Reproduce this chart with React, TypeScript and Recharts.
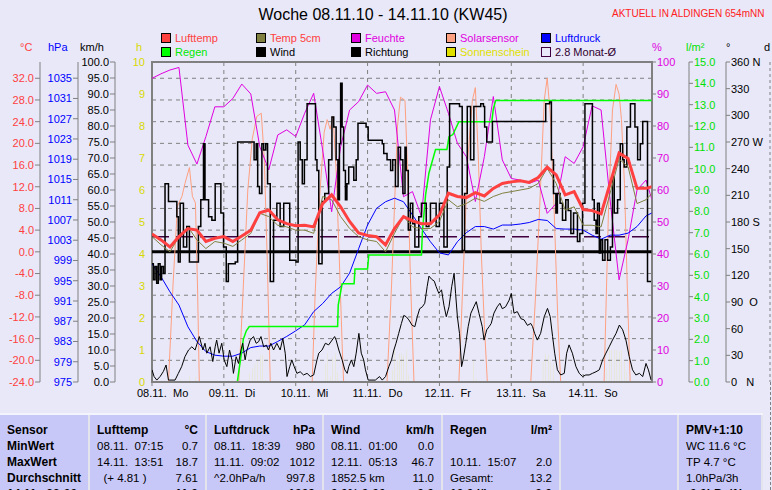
import {
  ComposedChart,
  Line,
  Bar,
  XAxis,
  YAxis,
  CartesianGrid,
  ReferenceLine,
  ReferenceArea,
} from "recharts";

const FONT = '"Liberation Sans", Arial, sans-serif';
const BG = "#E8E8F8";

// 3-hourly samples (hours since 08.11. 00:00)
const hours3 = [
  0, 3, 6, 9, 12, 15, 18, 21, 24, 27, 30, 33, 36, 39, 42, 45, 48, 51, 54, 57, 60, 63, 66, 69, 72, 75, 78, 81,
  84, 87, 90, 93, 96, 99, 102, 105, 108, 111, 114, 117, 120, 123, 126, 129, 132, 135, 138, 141, 144, 147,
  150, 153, 156, 159, 162, 165, 167,
];
const luftTemp = [
  3.3, 2.2, 0.9, 2.8, 4.3, 4.0, 1.9, 2.5, 2.8, 1.9, 2.9, 4.0, 7.2, 7.7, 5.9, 5.2, 4.8, 4.9, 4.6, 8.9, 10.5,
  8.3, 5.6, 3.5, 3.0, 2.8, 1.3, 4.3, 6.5, 5.7, 5.2, 5.2, 6.8, 10.8, 10.2, 10.0, 10.9, 10.3, 11.7, 12.6, 12.9,
  13.1, 12.8, 13.7, 15.6, 14.2, 10.5, 11.1, 7.8, 7.6, 7.0, 12.6, 18.2, 17.2, 11.7, 11.7, 12.0,
];
const temp5cm = [
  2.8, 1.3, 0.0, 2.8, 4.6, 2.2, 0.6, 1.9, 1.6, 1.0, 2.2, 3.4, 7.1, 6.5, 4.9, 4.6, 4.0, 4.0, 3.4, 10.2, 9.6,
  6.5, 4.3, 2.8, 2.2, 1.9, 0.0, 3.4, 6.5, 4.6, 4.3, 4.3, 5.6, 9.6, 8.3, 8.9, 9.9, 9.3, 10.2, 10.8, 11.1, 11.4,
  11.7, 12.6, 15.4, 12.6, 7.7, 8.3, 4.9, 4.9, 4.6, 10.8, 17.1, 15.7, 8.9, 9.6, 10.8,
];
const feuchte = [
  94.9, 96.3, 97.5, 98.3, 74, 68.1, 76.7, 86, 86, 88.6, 93.1, 90, 73.5, 66.3, 77.2, 78.8, 76.7, 84, 90.2, 72.5,
  53.2, 73.5, 85, 87.6, 92.8, 90.2, 90.7, 85, 57.9, 59.5, 51.7, 81.9, 92.3, 84, 74.6, 70.4, 56.4, 70.4, 89.2,
  69.4, 63.6, 63.1, 62.1, 63.1, 52.7, 55.8, 70.4, 68.3, 73.5, 86.3, 85, 56.9, 31.9, 44.4, 60, 63.1, 56.9,
];
const luftdruck = [
  998.3, 995.8, 992.8, 990.2, 985.9, 983.0, 981.0, 980.3, 980.1, 980.1, 980.7, 981.8, 982.1, 982.1, 983.0,
  984.0, 985.1, 986.3, 988.9, 990.5, 992.5, 993.8, 996.5, 1001.3, 1006.0, 1009.3, 1010.6, 1011.3, 1010.6,
  1008.0, 1005.3, 1002.7, 1000.5, 1000.1, 1002.7, 1004.5, 1005.7, 1005.7, 1005.2, 1006.0, 1006.0, 1006.2,
  1006.5, 1007.1, 1006.9, 1005.3, 1005.2, 1005.2, 1005.0, 1004.0, 1003.2, 1004.0, 1004.0, 1004.4, 1005.7,
  1007.8, 1008.4,
];

const solarT = [
  0, 5.5, 7, 8.5, 10, 11, 12.5, 13.5, 14.5, 15.2, 15.8, 29, 30.5, 32, 33.5, 35, 36.5, 37.5, 38.5, 39.5, 53.5,
  54.5, 56, 57.5, 58.5, 59.5, 60.5, 61.5, 62.5, 63.5, 64, 78.5, 80, 81, 82, 83, 84.5, 85.3, 86.3, 87.5, 102.5,
  104, 105.5, 107, 108, 109, 110, 111, 112, 126.5, 128, 129.5, 131, 132, 133, 134.3, 135.6, 136.5, 151, 152.5,
  153.8, 155, 156, 156.8, 157.8, 158.8, 159.7, 167,
];
const solarV = [
  0, 0, 30, 55, 58, 62, 67, 58, 56, 30, 0, 0, 30, 60, 76, 83, 84, 70, 38, 0, 0, 28, 58, 78, 82, 79, 83, 66, 40,
  12, 0, 0, 30, 55, 80, 89, 88, 68, 33, 0, 0, 35, 70, 88, 92, 70, 40, 18, 0, 0, 25, 55, 88, 95, 84, 54, 18, 0,
  0, 55, 85, 93, 90, 82, 62, 28, 0, 0,
];

const regenT = [
  0, 28.5, 29.5, 30.5, 31.5, 32.5, 62, 62.2, 63.5, 67.5, 67.8, 72, 72.4, 90, 90.3, 91.4, 92.5, 94.7, 98.5,
  99.2, 100.5, 102.5, 113.5, 114, 114.8, 167,
];
const regenV = [
  0, 0, 1.0, 2.0, 2.4, 2.6, 2.6, 3.6, 4.6, 4.6, 5.3, 5.3, 5.95, 5.95, 7.0, 8.8, 9.8, 10.9, 10.9, 11.5, 11.6,
  12.2, 12.2, 12.8, 13.2, 13.2,
];

const windT = [
  0, 0.7, 1.6, 2.7, 3.8, 4.7, 5.5, 7.7, 8.8, 9.9, 11, 12.2, 13.3, 14.4, 15.8, 17, 17.7, 18.3, 19.4, 20.3, 21.1,
  21.6, 22.4, 23.3, 24.1, 25, 25.9, 26.7, 27.2, 28.1, 28.9, 29.7, 30.3, 31.1, 31.7, 32.8, 33.9, 34.8, 35.6,
  36.4, 37.3, 38.2, 38.9, 39.7, 40.6, 41.7, 42.8, 43.7, 44.5, 45.1, 46, 46.7, 47.5, 48.4, 49.5, 50.6, 51.8,
  52.9, 54, 55.1, 55.7, 56.8, 57.9, 59, 61, 61.5, 62.4, 63.5, 64.4, 65.2, 65.7, 66.6, 67.4, 68.2, 69.1, 69.9,
  70.7, 71.3, 72.2, 74.6, 76, 76.9, 78, 79.1, 80, 80.8, 81.5, 82.4, 83.3, 84.1, 84.9, 85.8, 86.9, 87.8, 88.6,
  89.4, 90.3, 91.1, 91.9, 92.5, 93.4, 94.3, 94.9, 95.8, 96.7, 97.5, 98.3, 99.2, 100.1, 100.9, 101.4, 102,
  102.7, 103.4, 103.9, 104.8, 105.6, 106.5, 107.5, 108.3, 109.2, 110.3, 110.9, 111.8, 112.6, 113.3, 114.2,
  115.3, 116.2, 117, 118.1, 119.3, 120, 120.9, 122, 123.2, 124.3, 125.4, 126.5, 127.1, 127.8, 128.7, 129.8,
  131, 132.1, 133, 133.8, 134.5, 135.4, 136.5, 137.7, 138.5, 139.3, 140.4, 141.6, 142.7, 143.8, 144.9, 146,
  147.1, 148.3, 149.4, 150.5, 151.6, 152.7, 153.8, 155, 156.1, 157.2, 158.3, 159.4, 160.5, 161.6, 162.8,
  163.9, 165, 165.8, 166.7,
];
const windV = [
  3.8, 1.7, 0.6, 1.7, 3.3, 5.3, 0.6, 0.6, 2.7, 4.8, 7.9, 10, 11, 10, 14.2, 10, 12.1, 9, 11, 6.4, 11, 13.1, 9,
  12.1, 6.9, 4.8, 10, 6.9, 2.7, 7.9, 5.8, 10, 12.1, 6.9, 10, 13.1, 14.2, 12.1, 12.6, 14.2, 11, 11.5, 10, 12.1,
  10, 12.1, 10, 13.6, 9, 1.7, 4.8, 6.9, 4.8, 2.7, 3.2, 2.2, 2.7, 1.7, 2.2, 6.9, 9, 10, 12.1, 11.6, 14.2, 13.1,
  10, 6.9, 3.8, 2.7, 4.8, 6.9, 4.8, 9, 15.2, 9, 6.9, 3.8, 0.6, 0.6, 1.7, 0.6, 1.7, 4.8, 6.9, 10, 12.1, 15.2,
  18.3, 20.8, 20.4, 19.4, 17.7, 17.3, 20.4, 22.9, 23.5, 24.6, 29.8, 33.1, 32.1, 31.5, 29.8, 27.7, 28.8, 24,
  20.4, 23.5, 29.8, 34, 27.7, 20.4, 15.2, 4.8, 6.9, 12.1, 17.3, 21.5, 23.5, 25.1, 21.5, 17.3, 13.1, 16.3, 17.3,
  18.3, 21.5, 23.5, 24.6, 22.9, 23.5, 25.6, 27.7, 21.5, 22, 19.8, 19.4, 17.7, 18.3, 17.3, 15.2, 13.1, 15.2,
  20.4, 23, 20.4, 14.2, 9, 3.8, 2.2, 2.7, 9, 11.6, 9, 4.8, 2.7, 1.7, 2.2, 2.2, 2.7, 3.2, 3.8, 6.9, 9, 11, 13.1,
  15.2, 17.8, 16.3, 13.1, 7.9, 3.8, 2.2, 2.7, 1.7, 5.8, 3.8, 0.6,
];

const richtungT = [
  0, 0.45, 1, 1.56, 2.1, 2.7, 3.2, 3.8, 4.35, 5.5, 7.7, 8.3, 8.8, 9.4, 10.5, 11.6, 12.5, 14.9, 15.5, 16.3,
  17.2, 17.7, 18.9, 20, 21.1, 22.2, 23, 23.9, 24.8, 25.5, 27.8, 28.6, 33.4, 34.1, 34.8, 35.3, 35.9, 36.7, 37.3,
  38, 38.6, 39.5, 40.6, 41.7, 42.8, 44, 45.1, 46, 48.1, 48.8, 49.5, 50.2, 50.9, 51.8, 53.8, 54.6, 55.1, 55.7,
  56.8, 57.7, 59, 60.1, 60.7, 61.5, 62.1, 62.6, 63, 63.5, 64, 64.6, 65.1, 65.7, 67.4, 68.2, 68.8, 71.5, 72.2,
  76.9, 77.4, 78.5, 79.7, 80.4, 81.3, 82.2, 83, 83.8, 84.5, 84.9, 85.6, 86.3, 87.1, 87.8, 88.6, 89.1, 90, 90.8,
  91.6, 92.5, 93, 94.2, 94.9, 96, 97.5, 98.6, 99.4, 101.9, 102.7, 103.6, 104.4, 105.3, 106.4, 107.5, 109.8,
  110.7, 111.1, 111.8, 112.6, 113.7, 131, 131.5, 132.8, 133.4, 134.1, 134.9, 135.4, 136.3, 137.1, 138.2, 139,
  139.9, 140.8, 142.1, 142.9, 143.8, 144.6, 146.6, 147.1, 147.7, 148.3, 148.8, 149.4, 149.9, 150.5, 151.3,
  152.2, 153.1, 153.8, 154.4, 155.5, 156.4, 157.2, 157.7, 158.6, 159.8, 160.5, 161.3, 162.2, 163.1, 163.9,
  165, 165.5, 166.7,
];
const richtungV = [
  133, 115, 130, 111, 133, 115, 130, 122, 223, 203, 203, 186, 135, 201, 152, 175, 135, 135, 175, 205, 268, 205,
  186, 182, 223, 223, 190, 152, 113, 133, 135, 270, 270, 250, 268, 220, 212, 268, 261, 268, 223, 113, 182, 201,
  175, 201, 201, 137, 135, 270, 250, 223, 250, 313, 313, 250, 238, 133, 203, 212, 250, 298, 287, 250, 205, 268,
  336, 287, 238, 205, 223, 242, 227, 250, 291, 287, 272, 268, 257, 250, 238, 250, 220, 264, 250, 212, 264, 238,
  171, 201, 178, 152, 152, 186, 201, 201, 175, 178, 201, 201, 175, 201, 152, 242, 313, 313, 310, 148, 212, 310,
  250, 310, 313, 310, 287, 270, 270, 293, 293, 313, 315, 250, 212, 190, 212, 201, 182, 205, 193, 167, 190, 158,
  167, 201, 313, 313, 205, 182, 167, 201, 145, 160, 137, 160, 137, 152, 231, 190, 205, 268, 250, 242, 287, 313,
  313, 287, 250, 268, 293, 293, 113, 113,
];

const sunT = [
  9.6, 12.5, 14.5, 32.6, 33.5, 34.4, 35.3, 36.1, 37.0, 37.8, 57.9, 58.7, 59.6, 60.4, 61.2, 62.0, 80.4, 81.1,
  81.9, 82.7, 83.3, 84.1, 84.9, 85.8, 107.5, 108.3, 130.6, 131.5, 132.4, 133.2, 134.0, 151.9, 152.8, 153.6,
  154.4, 155.3, 156.1, 156.8, 157.7, 158.6,
];
const sunH = [
  0.08, 0.17, 0.17, 0.27, 0.43, 0.58, 0.64, 0.84, 0.84, 0.06, 0.58, 0.9, 0.17, 0.79, 0.9, 0.32, 0.38, 1.0,
  0.69, 0.9, 0.9, 0.84, 1.0, 0.22, 0.64, 0.11, 0.64, 0.88, 0.84, 0.64, 0.58, 0.43, 1.0, 1.0, 1.0, 1.0, 0.95,
  1.0, 0.64, 0.32,
];

const dayTicks = [0, 24, 48, 72, 96, 120, 144];
const dayDates = ["08.11.", "09.11.", "10.11.", "11.11.", "12.11.", "13.11.", "14.11."];
const dayNames = ["Mo", "Di", "Mi", "Do", "Fr", "Sa", "So"];

const tempTicks = [-24, -20, -16, -12, -8, -4, 0, 4, 8, 12, 16, 20, 24, 28, 32];
const hpaTicks = [975, 979, 983, 987, 991, 995, 999, 1003, 1007, 1011, 1015, 1019, 1023, 1027, 1031, 1035];
const kmhTicks = [0, 5, 10, 15, 20, 25, 30, 35, 40, 45, 50, 55, 60, 65, 70, 75, 80, 85, 90, 95, 100];
const hTicks = [0, 1, 2, 3, 4, 5, 6, 7, 8, 9, 10];
const pctTicks = [0, 10, 20, 30, 40, 50, 60, 70, 80, 90, 100];
const rainTicks = [0, 1, 2, 3, 4, 5, 6, 7, 8, 9, 10, 11, 12, 13, 14, 15];
const dirTicks = [0, 30, 60, 90, 120, 150, 180, 210, 240, 270, 300, 330, 360];
const dirNames: Record<number, string> = { 0: "0\u00a0\u00a0\u00a0N", 90: "90\u00a0\u00a0O", 180: "180 S", 270: "270 W", 360: "360 N" };

// axis ids are ordered so that the stacking next to the plot matches the original
const H = "a_h";
const KMH = "b_kmh";
const HPA = "c_hpa";
const TEMP = "d_temp";
const PCT = "e_pct";
const RAIN = "f_rain";
const DIR = "g_dir";
const DAYS = "h_d";

const zip = (ts: number[], vs: number[]) => ts.map((t, i) => ({ t, v: vs[i] }));
const sunData = sunT.map((t, i) => ({ t, sun: sunH[i] }));

const axisLine = { stroke: "#808080" };
const tickFont = (fill: string) => ({ fill, fontSize: 11, fontFamily: FONT });

function DayTick(props: any) {
  const { x, y, payload } = props;
  const i = dayTicks.indexOf(payload.value);
  if (i < 0) return null;
  return (
    <g fontFamily={FONT} fontSize={11} fill="#000">
      <text x={x - 15} y={y + 9}>{dayDates[i]}</text>
      <text x={x + 21} y={y + 9}>{dayNames[i]}</text>
    </g>
  );
}

const legend = [
  { x: 161, y: 33, label: "Lufttemp", box: "#FF4040", color: "#FF4040" },
  { x: 256, y: 33, label: "Temp 5cm", box: "#808040", color: "#FF4040" },
  { x: 351, y: 33, label: "Feuchte", box: "#E000E0", color: "#E000E0" },
  { x: 446, y: 33, label: "Solarsensor", box: "#FFA080", color: "#E000E0" },
  { x: 541, y: 33, label: "Luftdruck", box: "#0000FF", color: "#0000FF" },
  { x: 161, y: 47, label: "Regen", box: "#00FF00", color: "#00E800" },
  { x: 256, y: 47, label: "Wind", box: "#000000", color: "#000000" },
  { x: 351, y: 47, label: "Richtung", box: "#000000", color: "#000000" },
  { x: 446, y: 47, label: "Sonnenschein", box: "#E0E000", color: "#E0E000" },
  { x: 541, y: 47, label: "2.8 Monat-Ø", box: "none", color: "#300030" },
];

const units = [
  { x: 20, label: "°C", color: "#FF4040" },
  { x: 48, label: "hPa", color: "#0000FF" },
  { x: 80, label: "km/h", color: "#000" },
  { x: 136, label: "h", color: "#D8D800" },
  { x: 652, label: "%", color: "#E000E0" },
  { x: 686, label: "l/m²", color: "#00E000" },
  { x: 726, label: "°", color: "#000" },
  { x: 764, label: "d", color: "#000" },
];

type Col = { x: number; w: number; head: [string, string]; rows: [string, string][]; boldLeft?: boolean };
const tableCols: Col[] = [
  { x: 0, w: 88, head: ["Sensor", ""], rows: [["MinWert", ""], ["MaxWert", ""], ["Durchschnitt", ""], ["14.11.  22:00", ""]], boldLeft: true },
  { x: 88, w: 117, head: ["Lufttemp", "°C"], rows: [["08.11.  07:15", "0.7"], ["14.11.  13:51", "18.7"], ["  (+ 4.81 )", "7.61"], ["", "11.0"]] },
  { x: 205, w: 117, head: ["Luftdruck", "hPa"], rows: [["08.11.  18:39", "980"], ["11.11.  09:02", "1012"], ["^2.0hPa/h", "997.8"], ["", "1009"]] },
  { x: 322, w: 119, head: ["Wind", "km/h"], rows: [["08.11.  01:00", "0.0"], ["12.11.  05:13", "46.7"], ["1852.5 km", "11.0"], ["0.0% 0:00", "0.0"]] },
  { x: 441, w: 118, head: ["Regen", "l/m²"], rows: [["", ""], ["10.11.  15:07", "2.0"], ["Gesamt:", "13.2"], ["10.0 l/h", "0.0"]] },
  { x: 559, w: 118, head: ["", ""], rows: [["", ""], ["", ""], ["", ""], ["", ""]] },
  { x: 677, w: 86, head: ["PMV+1:10", ""], rows: [["WC 11.6 °C", ""], ["TP 4.7 °C", ""], ["1.0hPa/3h", ""], ["-0.0hPa/1h", ""]] },
];

function Table() {
  return (
    <div style={{ position: "absolute", left: 0, top: 413, width: 763, height: 90, background: "#C8C8F8", borderTop: "2px solid #F4F4FC" }}>
      {tableCols.map((c, ci) => (
        <div
          key={ci}
          style={{
            position: "absolute",
            left: c.x,
            top: 0,
            width: c.w,
            height: 90,
            boxSizing: "border-box",
            borderLeft: ci === 0 ? "none" : "2px solid #E4E4EC",
            borderRight: ci === tableCols.length - 1 ? "2px solid #E4E4EC" : "none",
          }}
        >
          {[c.head, ...c.rows].map((r, ri) => {
            const bold = ri === 0 || c.boldLeft || ri === 4;
            return (
              <div key={ri} style={{ position: "absolute", top: 7 + ri * 16, left: 0, width: "100%", height: 16, lineHeight: "16px", fontSize: bold ? 12 : 11.5, fontWeight: bold ? 700 : 400, color: "#000", whiteSpace: "pre" }}>
                <span style={{ position: "absolute", left: 7 }}>{r[0]}</span>
                <span style={{ position: "absolute", right: 7 }}>{r[1]}</span>
              </div>
            );
          })}
        </div>
      ))}
    </div>
  );
}

export default function App() {
  return (
    <div style={{ position: "absolute", left: 0, top: 0, width: 772, height: 490, background: BG, overflow: "hidden", fontFamily: FONT }}>
      <div style={{ position: "absolute", left: 0, top: 0 }}>
        <ComposedChart width={772} height={410} data={sunData} margin={{ top: 62, right: 0, bottom: 8, left: 0 }}>
          <CartesianGrid yAxisId={TEMP} stroke="#808080" strokeDasharray="4 4" />
          <XAxis
            dataKey="t"
            type="number"
            domain={[0, 167]}
            ticks={dayTicks}
            interval={0}
            allowDataOverflow
            height={20}
            axisLine={{ stroke: "#808080", strokeWidth: 2 }}
            tickLine={axisLine}
            tickSize={4}
            tick={(p: any) => <DayTick {...p} />}
          />
          <YAxis yAxisId={H} orientation="left" width={37} domain={[0, 10]} ticks={hTicks} interval={0} allowDataOverflow axisLine={false} tickLine={false} tickSize={5} tickMargin={2} tick={tickFont("#D8D800")} />
          <YAxis yAxisId={KMH} orientation="left" width={37} domain={[0, 100]} ticks={kmhTicks} interval={0} allowDataOverflow axisLine={axisLine} tickLine={axisLine} tickSize={5} tickMargin={1} tick={tickFont("#000")} tickFormatter={(v: number) => v.toFixed(1)} />
          <YAxis yAxisId={HPA} orientation="left" width={38} domain={[975, 1038.2]} ticks={hpaTicks} interval={0} allowDataOverflow axisLine={axisLine} tickLine={axisLine} tickSize={5} tickMargin={1} tick={tickFont("#0000FF")} />
          <YAxis yAxisId={TEMP} orientation="left" width={40} domain={[-24, 35]} ticks={tempTicks} interval={0} allowDataOverflow axisLine={axisLine} tickLine={axisLine} tickSize={5} tickMargin={1} tick={tickFont("#FF4040")} tickFormatter={(v: number) => v.toFixed(1)} />
          <YAxis yAxisId={PCT} orientation="right" width={37} domain={[0, 100]} ticks={pctTicks} interval={0} allowDataOverflow axisLine={axisLine} tickLine={axisLine} tickSize={4} tickMargin={1} tick={tickFont("#E000E0")} />
          <YAxis yAxisId={RAIN} orientation="right" width={37} domain={[0, 15]} ticks={rainTicks} interval={0} allowDataOverflow axisLine={axisLine} tickLine={axisLine} tickSize={4} tickMargin={1} tick={tickFont("#00E000")} tickFormatter={(v: number) => v.toFixed(1)} />
          <YAxis yAxisId={DIR} orientation="right" width={44} domain={[0, 360]} ticks={dirTicks} interval={0} allowDataOverflow axisLine={axisLine} tickLine={axisLine} tickSize={4} tickMargin={1} tick={tickFont("#000")} tickFormatter={(v: number) => dirNames[v] ?? String(v)} />
          <YAxis yAxisId={DAYS} orientation="right" width={2} domain={[-0.12, 6.06]} ticks={[0, 1, 2, 3, 4, 5, 6]} interval={0} allowDataOverflow axisLine={{ stroke: "#808080", strokeDasharray: "3 3" }} tickLine={axisLine} tickSize={-5} tick={false} />

          <Bar dataKey="sun" yAxisId={H} fill="#E0E000" barSize={2} isAnimationActive={false} />
          <ReferenceLine yAxisId={TEMP} y={0} stroke="#000" strokeWidth={3} />
          <ReferenceLine yAxisId={TEMP} y={2.8} stroke="#400040" strokeWidth={1.5} strokeDasharray="17 7" />

          <Line data={zip(solarT, solarV)} dataKey="v" yAxisId={PCT} stroke="#FFA080" strokeWidth={1} dot={false} isAnimationActive={false} />
          <Line data={zip(hours3, feuchte)} dataKey="v" yAxisId={PCT} stroke="#E000E0" strokeWidth={1} dot={false} isAnimationActive={false} />
          <Line data={zip(hours3, luftdruck)} dataKey="v" yAxisId={HPA} stroke="#0000FF" strokeWidth={1} dot={false} isAnimationActive={false} />
          <Line data={zip(regenT, regenV)} dataKey="v" yAxisId={RAIN} stroke="#00FF00" strokeWidth={1.5} dot={false} isAnimationActive={false} />
          <Line data={zip(windT, windV)} dataKey="v" yAxisId={KMH} stroke="#000" strokeWidth={1} dot={false} isAnimationActive={false} />
          <Line type="stepAfter" data={zip(richtungT, richtungV)} dataKey="v" yAxisId={DIR} stroke="#000" strokeWidth={1.5} dot={false} isAnimationActive={false} />
          <Line data={zip(hours3, temp5cm)} dataKey="v" yAxisId={TEMP} stroke="#808040" strokeWidth={1} dot={false} isAnimationActive={false} />
          <Line data={zip(hours3, luftTemp)} dataKey="v" yAxisId={TEMP} stroke="#FF4040" strokeWidth={3} dot={false} isAnimationActive={false} />

          <ReferenceArea yAxisId={PCT} x1={0} x2={167} y1={0} y2={100} fill="none" stroke="#808080" strokeWidth={2} />
        </ComposedChart>
      </div>

      <div style={{ position: "absolute", left: 0, top: 5, width: 772, textAlign: "center", fontSize: 16, lineHeight: "20px", color: "#000" }}>
        <span style={{ position: "relative", left: -3 }}>Woche 08.11.10 - 14.11.10 (KW45)</span>
      </div>
      <div style={{ position: "absolute", left: 612, top: 7, fontSize: 10, lineHeight: "14px", color: "#FF2020" }}>AKTUELL IN ALDINGEN 654mNN</div>

      {legend.map((l, i) => (
        <div key={i}>
          <div style={{ position: "absolute", left: l.x, top: l.y, width: 10, height: 10, boxSizing: "border-box", border: l.box === "none" ? "1px solid #400040" : "1px solid #000", background: l.box === "none" ? "transparent" : l.box }} />
          <div style={{ position: "absolute", left: l.x + 14, top: l.y - 3, fontSize: 11, lineHeight: "16px", color: l.color, whiteSpace: "nowrap" }}>{l.label}</div>
        </div>
      ))}

      {units.map((u, i) => (
        <div key={i} style={{ position: "absolute", left: u.x, top: 39, fontSize: 11, lineHeight: "16px", color: u.color }}>{u.label}</div>
      ))}

      <div style={{ position: "absolute", left: 770, top: 382, height: 108, borderLeft: "1px dashed #808080" }} />
      <Table />
    </div>
  );
}
